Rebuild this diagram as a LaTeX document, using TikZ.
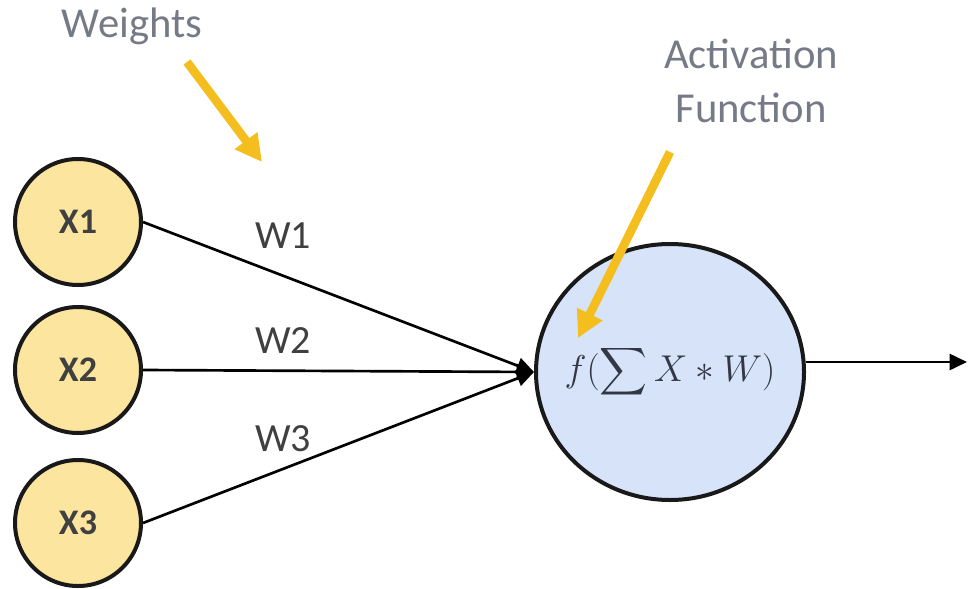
\RequirePackage{fix-cm}
\documentclass[tikz,border=0pt]{standalone}
\usepackage{amsmath}
\usepackage{exscale}
\usepackage{fontspec}
\setmainfont{Carlito}
\usetikzlibrary{positioning,arrows.meta,shapes.geometric}
\definecolor{inputfill}{RGB}{252,229,158}
\definecolor{neuronfill}{RGB}{214,227,249}
\definecolor{hintyellow}{RGB}{244,190,30}
\definecolor{notegray}{RGB}{118,122,135}
\definecolor{labelgray}{RGB}{64,64,64}
\definecolor{mathgray}{RGB}{50,55,70}
\tikzset{
  input/.style={circle, draw=black!90, line width=3pt, fill=inputfill, minimum size=94.5pt, inner sep=0pt,
    font=\fontsize{27}{32}\selectfont\bfseries, text=labelgray},
  neuron/.style={ellipse, draw=black!90, line width=3pt, fill=neuronfill, minimum width=201pt, minimum height=192pt,
    inner ysep=0pt, inner xsep=-30pt, font=\fontsize{28}{34}\selectfont, text=mathgray},
  weight/.style={font=\fontsize{30}{36}\selectfont, text=labelgray, anchor=base, inner sep=0pt},
  note/.style={font=\fontsize{32}{41}\selectfont, text=notegray, align=center, inner sep=0pt},
  link/.style={line width=2pt, -{Triangle[length=13pt,width=12pt]}},
  hint/.style={line width=6.5pt, hintyellow, -{Triangle[length=20pt,width=20pt]}}
}
\begin{document}
\begin{tikzpicture}[x=0.75pt, y=-0.75pt]
\useasboundingbox (0,0) rectangle (969,588);
% -- inputs --
\node[input] (x1) at (78,222) {X1};
\node[input] (x2) at (78,370) {X2};
\node[input] (x3) at (78,523) {X3};
% -- neuron --
\node[neuron] (sum) at (670,372) {$\displaystyle f(\sum X * W)$};
% -- weighted links --
\draw[link] (x1.east) -- (sum.west);
\draw[link] (x2.east) -- (sum.west);
\draw[link] (x3.east) -- (sum.west);
\node[weight] (w1) at (283,248) {W1};
\node[weight] (w2) at (283,353) {W2};
\node[weight] (w3) at (283,451) {W3};
% -- output --
\coordinate (out) at (967,362);
\draw[link] (sum.east |- out) -- (out);
% -- notes --
\node[note, anchor=base] (weights) at (132,38) {Weights};
\node[note] (activation) at (751,81) {Activation\\Function};
\coordinate (wfrom) at (187,62);
\coordinate (wto) at (262,162);
\coordinate (afrom) at (670,152);
\coordinate (ato) at (578,338);
\draw[hint] (wfrom) -- (wto);
\draw[hint] (afrom) -- (ato);
\end{tikzpicture}
\end{document}
